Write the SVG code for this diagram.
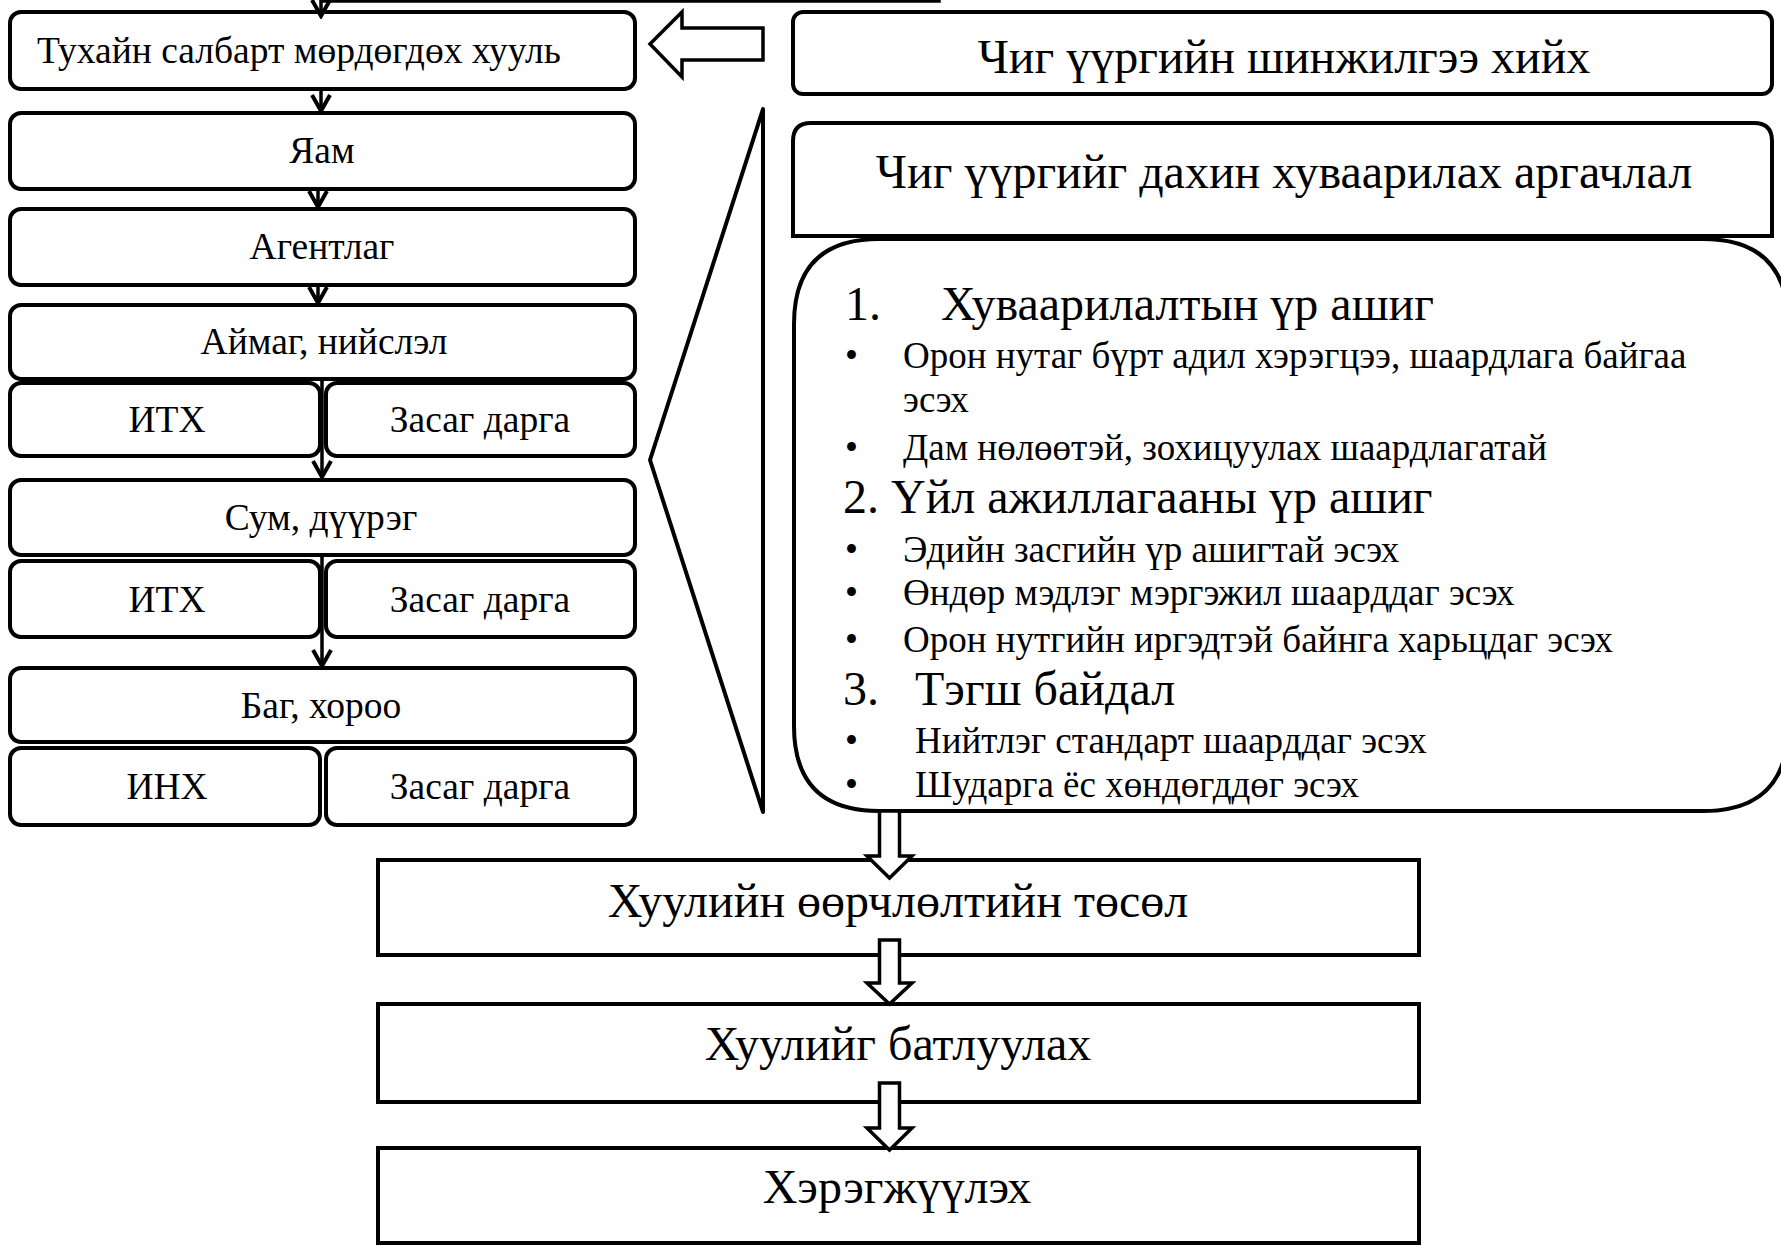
<svg xmlns="http://www.w3.org/2000/svg" width="1781" height="1246" viewBox="0 0 1781 1246">
  <style>
    text { font-family: "Liberation Serif", "Times New Roman", serif; fill: #000; }
    .box { fill: #fff; stroke: #000; stroke-width: 4; }
    .sm { font-size: 37.5px; }
    .lg { font-size: 48px; }
    .bl { font-size: 37px; }
    .c { text-anchor: middle; }
    .conn { fill: none; stroke: #000; stroke-width: 3.5; }
    .blk { fill: #fff; stroke: #000; stroke-width: 3.5; stroke-linejoin: miter; }
  </style>
  <defs>
    <marker id="ah" markerUnits="userSpaceOnUse" markerWidth="24" markerHeight="24" viewBox="0 0 24 24" refX="21" refY="12" orient="auto">
      <path d="M5,3 L21,12 L5,21" fill="none" stroke="#000" stroke-width="4"/>
    </marker>
  </defs>

  <!-- Left column -->
  <g id="n1"><rect class="box" x="10" y="12" width="625" height="77" rx="11"/><text class="sm" x="37" y="63">Тухайн салбарт мөрдөгдөх хууль</text></g>
  <g id="n2"><rect class="box" x="10" y="113" width="625" height="76" rx="11"/><text class="sm c" x="322" y="163">Яам</text></g>
  <g id="n3"><rect class="box" x="10" y="209" width="625" height="76" rx="11"/><text class="sm c" x="322" y="259">Агентлаг</text></g>
  <g id="n4"><rect class="box" x="10" y="305" width="625" height="74" rx="11"/><text class="sm c" x="324" y="354">Аймаг, нийслэл</text></g>
  <g id="n5"><rect class="box" x="10" y="383" width="310" height="73" rx="11"/><text class="sm c" x="167" y="432">ИТХ</text></g>
  <g id="n6"><rect class="box" x="326" y="383" width="309" height="73" rx="11"/><text class="sm c" x="480" y="432">Засаг дарга</text></g>
  <g id="n7"><rect class="box" x="10" y="480" width="625" height="75" rx="11"/><text class="sm c" x="321" y="530">Сум, дүүрэг</text></g>
  <g id="n8"><rect class="box" x="10" y="561" width="310" height="76" rx="11"/><text class="sm c" x="167" y="612">ИТХ</text></g>
  <g id="n9"><rect class="box" x="326" y="561" width="309" height="76" rx="11"/><text class="sm c" x="480" y="612">Засаг дарга</text></g>
  <g id="n10"><rect class="box" x="10" y="668" width="625" height="74" rx="11"/><text class="sm c" x="321" y="718">Баг, хороо</text></g>
  <g id="n11"><rect class="box" x="10" y="748" width="310" height="77" rx="11"/><text class="sm c" x="167" y="799">ИНХ</text></g>
  <g id="n12"><rect class="box" x="326" y="748" width="309" height="77" rx="11"/><text class="sm c" x="480" y="799">Засаг дарга</text></g>

  <!-- Bracket -->
  <g id="bracket"><polygon points="763,109 650,460 763,812" fill="none" stroke="#000" stroke-width="4" stroke-linejoin="round"/></g>

  <!-- Right column -->
  <g id="r1"><rect class="box" x="793" y="12" width="979" height="82" rx="10"/><text class="lg c" x="1284" y="73">Чиг үүргийн шинжилгээ хийх</text></g>
  <g id="r2"><path class="box" d="M793,236 V141 Q793,123 811,123 H1754 Q1772,123 1772,141 V236 Z"/><text class="lg c" x="1284" y="188">Чиг үүргийг дахин хуваарилах аргачлал</text></g>
  <g id="r3">
    <path class="box" d="M794,324 Q794,239 879,239 H1703 Q1788,239 1788,324 V726 Q1788,811 1703,811 H879 Q794,811 794,726 Z"/>
    <text class="lg" x="845" y="320">1.</text><text class="lg" x="941" y="320">Хуваарилалтын үр ашиг</text>
    <text class="bl" x="845" y="368">•</text><text class="bl" x="903" y="368">Орон нутаг бүрт адил хэрэгцээ, шаардлага байгаа</text>
    <text class="bl" x="903" y="412">эсэх</text>
    <text class="bl" x="845" y="460">•</text><text class="bl" x="903" y="460">Дам нөлөөтэй, зохицуулах шаардлагатай</text>
    <text class="lg" x="843" y="513">2. Үйл ажиллагааны үр ашиг</text>
    <text class="bl" x="845" y="562">•</text><text class="bl" x="903" y="562">Эдийн засгийн үр ашигтай эсэх</text>
    <text class="bl" x="845" y="605">•</text><text class="bl" x="903" y="605">Өндөр мэдлэг мэргэжил шаарддаг эсэх</text>
    <text class="bl" x="845" y="652">•</text><text class="bl" x="903" y="652">Орон нутгийн иргэдтэй байнга харьцдаг эсэх</text>
    <text class="lg" x="843" y="705">3.</text><text class="lg" x="915" y="705">Тэгш байдал</text>
    <text class="bl" x="845" y="753">•</text><text class="bl" x="915" y="753">Нийтлэг стандарт шаарддаг эсэх</text>
    <text class="bl" x="845" y="797">•</text><text class="bl" x="915" y="797">Шударга ёс хөндөгддөг эсэх</text>
  </g>

  <!-- Bottom column -->
  <g id="b1"><rect class="box" x="378" y="860" width="1041" height="95"/><text class="lg c" x="898" y="917">Хуулийн өөрчлөлтийн төсөл</text></g>
  <g id="b2"><rect class="box" x="378" y="1004" width="1041" height="98"/><text class="lg c" x="898" y="1060">Хуулийг батлуулах</text></g>
  <g id="b3"><rect class="box" x="378" y="1148" width="1041" height="95"/><text class="lg c" x="897" y="1203">Хэрэгжүүлэх</text></g>

  <!-- Connectors -->
  <g id="connectors">
    <path class="conn" d="M939,-5 V1 H321 V16" marker-end="url(#ah)"/>
    <path class="conn" d="M321,89 V111" marker-end="url(#ah)"/>
    <path class="conn" d="M318,189 V207" marker-end="url(#ah)"/>
    <path class="conn" d="M318,285 V303" marker-end="url(#ah)"/>
    <path class="conn" d="M322,379 V477" marker-end="url(#ah)"/>
    <path class="conn" d="M322,555 V666" marker-end="url(#ah)"/>
    <polygon class="blk" points="650,44 682,12 682,28 763,28 763,60 682,60 682,77"/>
    <polygon class="blk" points="879.5,811 899.5,811 899.5,856 912,856 889.5,878 867,856 879.5,856"/>
    <polygon class="blk" points="879.5,940 899.5,940 899.5,983 912,983 889.5,1004 867,983 879.5,983"/>
    <polygon class="blk" points="879.5,1083 899.5,1083 899.5,1128 912,1128 889.5,1150 867,1128 879.5,1128"/>
  </g>
</svg>
